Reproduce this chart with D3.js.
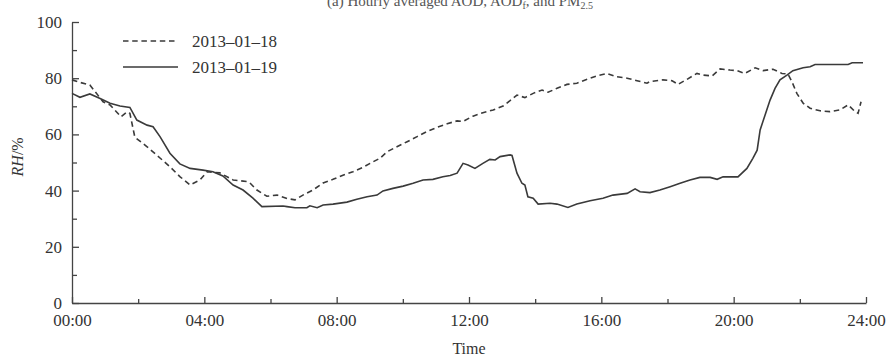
<!DOCTYPE html>
<html>
<head>
<meta charset="utf-8">
<script src="https://cdn.jsdelivr.net/npm/d3@7"></script>
<style>
  html, body { margin: 0; padding: 0; background: #fff; }
  svg { display: block; font-family: "Liberation Serif", "Times New Roman", serif; }
</style>
</head>
<body>
<svg id="chart" width="889" height="356"></svg>
<script>
// Relative humidity through the day, hour of day (h) and RH (%)
const hours18 = [0,0.24,0.54,0.94,1.15,1.48,1.66,1.75,1.90,2.27,2.66,2.96,3.26,3.57,3.87,4.08,4.47,4.87,5.29,5.38,5.59,5.89,6.20,6.50,6.74,6.98,7.28,7.59,7.89,8.19,8.49,8.80,9.01,9.31,9.52,9.82,10.13,10.43,10.73,11.03,11.34,11.64,11.82,12.12,12.42,12.73,13.03,13.24,13.45,13.69,13.94,14.21,14.39,14.66,14.96,15.26,15.57,15.87,16.17,16.47,16.78,17.08,17.38,17.47,17.86,18.14,18.32,18.59,18.89,19.07,19.35,19.59,19.89,20.10,20.34,20.65,20.89,21.19,21.46,21.64,21.76,21.91,22.10,22.31,22.61,22.91,23.21,23.46,23.67,23.76,23.85];
const rh18 = [79.4,78.5,77.6,71.6,70.5,66.3,68,67.5,59,55.6,51.6,48.5,45,42,43.8,46.7,46.3,43.8,43.2,42.7,40.2,38,38.4,37.2,36.7,38.4,40.2,42.7,44,45.5,46.7,48.3,49.7,51.5,53.8,55.6,57.4,59.2,61,62.5,63.8,64.8,64.6,66.5,67.7,68.7,70.1,72,74,73.1,74.6,75.8,75,76.4,77.8,78.2,79.6,80.8,81.7,80.5,80,79.1,78.2,78.8,79.4,79.1,77.8,79.6,81.7,81.1,80.8,83.3,82.9,82.7,81.7,83.7,82.7,83.2,81.7,81.5,78.8,74.6,71.1,69.3,68.4,68.1,68.7,70.5,68.1,67.5,71.6];

const hours19 = [0,0.24,0.54,0.85,1.15,1.45,1.75,1.96,2.27,2.45,2.66,2.96,3.26,3.57,3.96,4.26,4.56,4.87,5.17,5.47,5.74,6.38,6.50,6.74,7.10,7.19,7.41,7.59,7.89,8.31,8.61,8.92,9.22,9.40,9.70,10.01,10.31,10.61,10.91,11.21,11.43,11.64,11.82,11.97,12.18,12.42,12.63,12.79,12.94,13.24,13.30,13.45,13.60,13.69,13.78,13.94,14.09,14.45,14.66,14.99,15.26,15.66,16.05,16.35,16.78,17.02,17.17,17.47,17.77,18.08,18.38,18.68,18.98,19.29,19.50,19.68,20.13,20.40,20.58,20.71,20.80,20.95,21.10,21.25,21.40,21.61,21.79,22.10,22.31,22.46,23.00,23.46,23.58,23.91];
const rh19 = [74.6,73.2,74.4,72.8,71.1,70.1,69.6,65.1,63.3,62.7,59.2,53.3,49.5,47.9,47.3,46.7,45.2,42,40.2,37.3,34.3,34.5,34.3,33.9,33.9,34.6,33.9,34.9,35.2,35.9,36.9,37.8,38.4,39.9,40.8,41.6,42.6,43.8,44,44.9,45.4,46.2,49.7,49.1,47.9,49.7,51.1,50.9,52.1,52.7,52.5,46.2,42.6,42,37.8,37.3,35.2,35.5,35.2,34,35.2,36.4,37.3,38.4,39,40.6,39.6,39.3,40.2,41.4,42.6,43.8,44.7,44.7,44,44.9,44.9,47.9,51.5,54.4,61.6,66.9,72.2,76.4,79.4,81.1,82.7,83.7,84.1,84.9,84.9,84.9,85.5,85.5];

const seriesNames = ["2013\u201301\u201318", "2013\u201301\u201319"];
const xTickHours = [0, 4, 8, 12, 16, 20, 24];
const xTickLabels = ["00:00", "04:00", "08:00", "12:00", "16:00", "20:00", "24:00"];
const yTicks = [0, 20, 40, 60, 80, 100];

const ink = "#333";
const dashPattern = "5.5,3.7";
const svg = d3.select("#chart");

const x = d3.scaleLinear().domain([0, 24]).range([72, 866]);
const y = d3.scaleLinear().domain([0, 100]).range([303, 22]);

// panel title running off the top edge
const title = svg.append("text")
  .attr("x", 460).attr("y", 6)
  .attr("text-anchor", "middle")
  .attr("font-size", 15)
  .attr("fill", "#555");
title.append("tspan").text("(a) Hourly averaged AOD, AOD");
title.append("tspan").attr("font-size", 10).attr("dy", 3).text("f");
title.append("tspan").attr("dy", -3).text(", and PM");
title.append("tspan").attr("font-size", 10).attr("dy", 3).text("2.5");

// y axis: major ticks every 20, minor every 10, ticks pointing inward
svg.append("g").attr("transform", `translate(${x(0)},0)`)
  .call(d3.axisLeft(y).tickValues(yTicks).tickSizeInner(-7).tickSizeOuter(0).tickPadding(10));
svg.append("g").attr("transform", `translate(${x(0)},0)`)
  .call(d3.axisLeft(y).tickValues(d3.range(10, 100, 20)).tickSizeInner(-5).tickSizeOuter(0).tickFormat(""))
  .select(".domain").remove();

// x axis: major ticks every 4 h, minor every 2 h
svg.append("g").attr("transform", `translate(0,${y(0)})`)
  .call(d3.axisBottom(x).tickValues(xTickHours).tickSizeInner(-6).tickSizeOuter(0).tickPadding(11)
    .tickFormat((d, i) => xTickLabels[i]));
svg.append("g").attr("transform", `translate(0,${y(0)})`)
  .call(d3.axisBottom(x).tickValues(d3.range(2, 24, 4)).tickSizeInner(-4).tickSizeOuter(0).tickFormat(""))
  .select(".domain").remove();

svg.selectAll(".domain, .tick line").attr("stroke", "#444").attr("stroke-width", 1.3);
svg.selectAll(".tick text").attr("fill", ink).attr("font-size", 17)
  .attr("font-family", "'Liberation Serif', serif");

// axis titles
svg.append("text")
  .attr("x", x(12)).attr("y", 354)
  .attr("text-anchor", "middle").attr("font-size", 16).attr("fill", ink)
  .text("Time");
const yl = svg.append("text")
  .attr("transform", `translate(23,${y(52)}) rotate(-90)`)
  .attr("text-anchor", "middle").attr("font-size", 16).attr("fill", ink);
yl.append("tspan").attr("font-style", "italic").text("RH");
yl.append("tspan").text("/%");

// curves
const line = d3.line().x(d => x(d[0])).y(d => y(d[1]));
const pts18 = hours18.map((h, i) => [h, rh18[i]]);
const pts19 = hours19.map((h, i) => [h, rh19[i]]);

svg.append("path").datum(pts18)
  .attr("d", line).attr("fill", "none")
  .attr("stroke", "#3a3a3a").attr("stroke-width", 1.6)
  .attr("stroke-dasharray", dashPattern);
svg.append("path").datum(pts19)
  .attr("d", line).attr("fill", "none")
  .attr("stroke", "#3a3a3a").attr("stroke-width", 1.6);

// legend
const legend = svg.append("g");
const legendRows = [{ name: seriesNames[0], dash: dashPattern, ly: 41 }, { name: seriesNames[1], dash: null, ly: 67 }];
legendRows.forEach(r => {
  legend.append("line")
    .attr("x1", 123).attr("x2", 178).attr("y1", r.ly).attr("y2", r.ly)
    .attr("stroke", "#3a3a3a").attr("stroke-width", 1.6)
    .attr("stroke-dasharray", r.dash);
  legend.append("text")
    .attr("x", 192).attr("y", r.ly).attr("dy", "0.35em")
    .attr("font-size", 17).attr("fill", ink)
    .text(r.name);
});
</script>
</body>
</html>
